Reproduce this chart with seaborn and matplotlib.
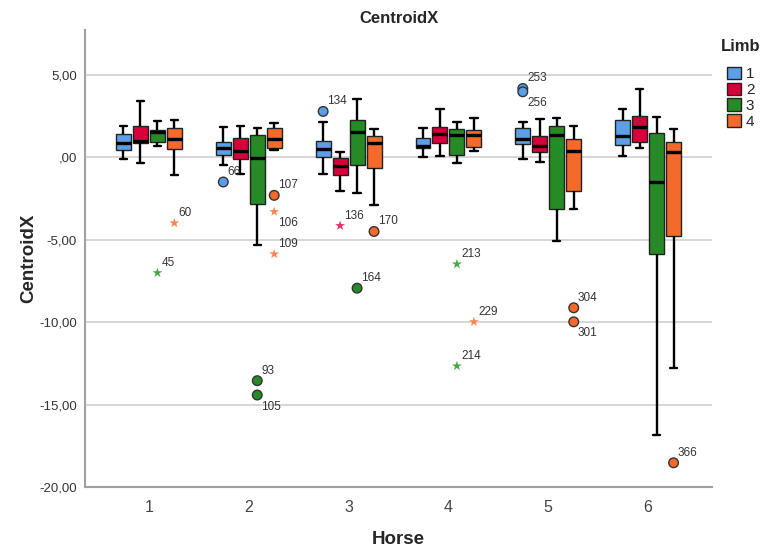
import numpy as np
import pandas as pd
import matplotlib
matplotlib.use("Agg")
import matplotlib.pyplot as plt
import seaborn as sns
from matplotlib.ticker import FuncFormatter

# ---------------- data ----------------
horses = [1, 2, 3, 4, 5, 6]
limbs = [1, 2, 3, 4]
# five-number summaries, ordered horse-major, limb-minor (24 groups)
whisker_low = [-0.10, -0.32, 0.69, -1.09,
               -0.47, -0.99, -5.35, 0.43,
               -0.99, -2.07, -2.17, -2.90,
               0.02, 0.06, -0.32, 0.36,
               -0.10, -0.28, -5.08, -3.16,
               0.08, 0.59, -16.83, -12.80]
q1 = [0.47, 0.89, 0.95, 0.49,
      0.12, -0.12, -2.81, 0.57,
      0.00, -1.07, -0.47, -0.67,
      0.55, 0.87, 0.14, 0.61,
      0.79, 0.32, -3.14, -2.07,
      0.75, 0.91, -5.85, -4.80]
median = [0.87, 0.97, 1.56, 1.13,
          0.59, 0.41, -0.02, 1.09,
          0.49, -0.55, 1.54, 0.89,
          0.69, 1.42, 1.34, 1.32,
          1.11, 0.67, 1.34, 0.38,
          1.28, 1.82, -1.48, 0.30]
q3 = [1.44, 1.92, 1.68, 1.78,
      0.91, 1.15, 1.38, 1.78,
      0.99, -0.04, 2.27, 1.28,
      1.15, 1.84, 1.72, 1.64,
      1.78, 1.30, 1.92, 1.11,
      2.23, 2.49, 1.50, 0.95]
whisker_high = [1.90, 3.40, 2.17, 2.27,
                1.84, 1.90, 1.80, 2.05,
                2.13, 0.32, 3.56, 1.74,
                1.78, 2.94, 2.13, 2.37,
                2.13, 2.31, 2.39, 1.92,
                2.92, 4.11, 2.45, 1.70]

# outliers
out_horse = [1, 1, 2, 2, 2, 2, 2, 2, 3, 3, 3, 3, 4, 4, 4, 5, 5, 5, 5, 6]
out_limb = [4, 3, 1, 4, 4, 4, 3, 3, 1, 2, 3, 4, 3, 3, 4, 1, 1, 4, 4, 4]
out_value = [-3.99, -7.01, -1.50, -2.31, -3.30, -5.87, -13.55, -14.42,
             2.78, -4.15, -7.94, -4.50, -6.48, -12.66, -9.98,
             4.17, 3.97, -9.13, -9.98, -18.53]
out_id = ["60", "45", "66", "107", "106", "109", "93", "105",
          "134", "136", "164", "170", "213", "214", "229",
          "253", "256", "304", "301", "366"]
out_kind = ["extreme", "extreme", "mild", "mild", "extreme", "extreme", "mild", "mild",
            "mild", "extreme", "mild", "mild", "extreme", "extreme", "extreme",
            "mild", "mild", "mild", "mild", "mild"]
out_label_below = [False, False, False, False, True, False, False, True,
                   False, False, False, False, False, False, False,
                   False, True, False, True, False]

colors = ["#5a9fe8", "#d8003a", "#268a26", "#f5692a"]
star_colors = ["#5a9fe8", "#e8306a", "#45a845", "#fb8650"]

# ---------------- build long table ----------------
rows = []
i = 0
for h in horses:
    for l in limbs:
        for v in (whisker_low[i], q1[i], median[i], q3[i], whisker_high[i]):
            rows.append({"Horse": h, "Limb": l, "CentroidX": v})
        i += 1
df = pd.DataFrame(rows)

out_df = pd.DataFrame({"Horse": out_horse, "Limb": out_limb,
                       "CentroidX": out_value, "id": out_id,
                       "kind": out_kind, "below": out_label_below})

# ---------------- plot ----------------
sns.set_style("white")
plt.rcParams["font.family"] = ["Liberation Sans", "DejaVu Sans"]

fig = plt.figure(figsize=(7.66, 5.53), dpi=100)
ax = fig.add_axes([0.111, 0.1193, 0.8185, 0.8265])

box_width = 0.68
sns.boxplot(data=df, x="Horse", y="CentroidX", hue="Limb", order=horses,
            hue_order=limbs, palette=colors, saturation=1, width=box_width,
            gap=0.12, showfliers=False, linecolor="#222222", linewidth=1.0,
            medianprops=dict(color="black", linewidth=2.4),
            whiskerprops=dict(color="black", linewidth=1.7),
            capprops=dict(color="black", linewidth=1.7),
            ax=ax, zorder=3)

# outlier positions: category index + dodge offset of the hue level
step = box_width / len(limbs)
out_df["xpos"] = [horses.index(h) + (limbs.index(l) - (len(limbs) - 1) / 2) * step
                  for h, l in zip(out_df["Horse"], out_df["Limb"])]

mild = out_df[out_df["kind"] == "mild"]
ext = out_df[out_df["kind"] == "extreme"]
sns.scatterplot(data=mild, x="xpos", y="CentroidX", hue="Limb",
                palette=dict(zip(limbs, colors)), hue_order=limbs,
                marker="o", s=48, edgecolor="#333333", linewidth=1.0,
                legend=False, ax=ax, zorder=5)
sns.scatterplot(data=ext, x="xpos", y="CentroidX", hue="Limb",
                palette=dict(zip(limbs, star_colors)), hue_order=limbs,
                marker="*", s=55, linewidth=0, legend=False, ax=ax, zorder=5)

for _, r in out_df.iterrows():
    if r["below"]:
        ax.annotate(r["id"], (r["xpos"], r["CentroidX"]), xytext=(3, -4),
                    textcoords="offset points", ha="left", va="top",
                    fontsize=8.5, color="#333333")
    else:
        ax.annotate(r["id"], (r["xpos"], r["CentroidX"]), xytext=(3, 3),
                    textcoords="offset points", ha="left", va="bottom",
                    fontsize=8.5, color="#333333")

# axes styling
ax.set_xlim(-0.64, 5.64)
ax.set_ylim(-20, 7.72)
ax.set_yticks([-20, -15, -10, -5, 0, 5])


def fmt(v, _):
    s = f"{v:.2f}".replace(".", ",")
    if s.startswith("0,"):
        s = s[1:]
    if s.startswith("-0,"):
        s = s[2:]
    return s


ax.yaxis.set_major_formatter(FuncFormatter(fmt))
ax.set_xticks(range(len(horses)))
ax.set_xticklabels([str(h) for h in horses])
ax.grid(axis="y", color="#cfcfcf", linewidth=1.2, zorder=0)
ax.set_axisbelow(True)
for s in ["top", "right"]:
    ax.spines[s].set_visible(False)
for s in ["left", "bottom"]:
    ax.spines[s].set_color("#a0a0a0")
    ax.spines[s].set_linewidth(1.5)
ax.tick_params(axis="y", length=4, color="#a0a0a0", labelsize=9.5,
               labelcolor="#333333", direction="out", pad=2)
ax.tick_params(axis="x", length=0, labelsize=11.5, labelcolor="#444444", pad=9)

ax.set_xlabel("Horse", fontsize=13.5, fontweight="bold", labelpad=12)
ax.set_ylabel("CentroidX", fontsize=13.5, fontweight="bold", labelpad=1)
ax.set_title("CentroidX", fontsize=12, fontweight="bold", pad=5)

handles, labels = ax.get_legend_handles_labels()
leg = ax.legend(handles, labels, title="Limb", loc="upper left",
                bbox_to_anchor=(0.997, 1.003), frameon=False, borderpad=0.2,
                handlelength=0.9, handleheight=0.9, handletextpad=0.35,
                labelspacing=0.08, fontsize=11, alignment="center",
                title_fontproperties={"weight": "bold", "size": 12})
leg._legend_box.sep = 9

fig.savefig("out.png", dpi=100)
